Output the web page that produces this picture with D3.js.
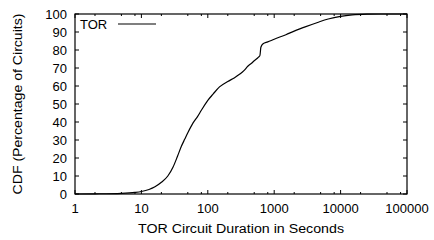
<!DOCTYPE html>
<html>
<head>
<meta charset="utf-8">
<script src="https://cdn.jsdelivr.net/npm/d3@7"></script>
<style>
	body { margin: 0; background: #fff; }
	text { font-family: "Liberation Sans", Arial, sans-serif; fill: #000; }
</style>
</head>
<body>
<svg id="chart" width="434" height="240"></svg>
<script>
// Data:
var durations = [1, 2, 5, 8, 10, 13, 16, 20, 25, 30, 35, 40, 45, 50, 60, 70, 80, 100, 120, 150, 200, 250, 300, 350, 400, 450, 500, 580, 610, 630, 680, 800, 1000, 1500, 2000, 3000, 4500, 6500, 10000, 15000, 25000, 40000, 100000];
var cdfValues = [0, 0.1, 0.4, 0.9, 1.4, 2.5, 4, 6.5, 10, 15, 21, 26.5, 30.5, 34, 39.5, 43, 46.5, 52, 55.5, 59.5, 62.5, 64.5, 66.5, 68.5, 71, 72.5, 74, 76, 77, 81.5, 83.5, 84.5, 86, 88.5, 90.5, 93, 95.3, 97.2, 98.7, 99.5, 99.9, 100, 100];
var xTickValues = [1, 10, 100, 1000, 10000, 100000];
var xMinorMult = [2, 5, 8];
var yTickValues = [0, 10, 20, 30, 40, 50, 60, 70, 80, 90, 100];
var seriesName = "TOR";

function drawChart() {
	"use strict";
	var svg = d3.select("#chart");
	var pLeft = 75, pRight = 407, pTop = 14, pBottom = 194;

	var x = d3.scaleLog().domain([1, 100000]).range([pLeft, pRight]);
	var y = d3.scaleLinear().domain([0, 100]).range([pBottom, pTop]);

	// ticks (inside, mirrored like gnuplot)
	var minorTicks = [];
	xTickValues.slice(0, -1).forEach(function(d) {
		xMinorMult.forEach(function(m) { minorTicks.push(d * m); });
	});

	var g = svg.append("g").attr("stroke", "#000").attr("stroke-width", 1);
	xTickValues.forEach(function(d) {
		g.append("line").attr("x1", x(d)).attr("x2", x(d)).attr("y1", pBottom).attr("y2", pBottom - 4);
		g.append("line").attr("x1", x(d)).attr("x2", x(d)).attr("y1", pTop).attr("y2", pTop + 4);
	});
	minorTicks.forEach(function(d) {
		g.append("line").attr("x1", x(d)).attr("x2", x(d)).attr("y1", pBottom).attr("y2", pBottom - 2);
		g.append("line").attr("x1", x(d)).attr("x2", x(d)).attr("y1", pTop).attr("y2", pTop + 2);
	});
	yTickValues.forEach(function(d) {
		g.append("line").attr("x1", pLeft).attr("x2", pLeft + 4).attr("y1", y(d)).attr("y2", y(d));
		g.append("line").attr("x1", pRight).attr("x2", pRight - 4).attr("y1", y(d)).attr("y2", y(d));
	});

	// tick labels
	svg.selectAll("text.xlab")
		.data(xTickValues)
		.enter().append("text")
		.attr("class", "xlab")
		.attr("x", function(d) { return x(d); })
		.attr("y", 213)
		.attr("text-anchor", "middle")
		.attr("font-size", 13)
		.text(function(d) { return d; });

	svg.selectAll("text.ylab")
		.data(yTickValues)
		.enter().append("text")
		.attr("class", "ylab")
		.attr("x", 67)
		.attr("y", function(d) { return y(d); })
		.attr("dy", "0.35em")
		.attr("text-anchor", "end")
		.attr("font-size", 13)
		.text(function(d) { return d; });

	// axis titles
	svg.append("text")
		.attr("x", (pLeft + pRight) / 2)
		.attr("y", 233)
		.attr("text-anchor", "middle")
		.attr("font-size", 12.5)
		.attr("textLength", 206)
		.attr("lengthAdjust", "spacingAndGlyphs")
		.text("TOR Circuit Duration in Seconds");

	svg.append("text")
		.attr("transform", "translate(22," + ((pTop + pBottom) / 2) + ") rotate(-90)")
		.attr("text-anchor", "middle")
		.attr("font-size", 12.5)
		.attr("textLength", 181)
		.attr("lengthAdjust", "spacingAndGlyphs")
		.text("CDF (Percentage of Circuits)");

	// curve
	var line = d3.line()
		.x(function(d, i) { return x(durations[i]); })
		.y(function(d) { return y(d); })
		.curve(d3.curveMonotoneX);

	svg.append("path")
		.datum(cdfValues)
		.attr("d", line)
		.attr("fill", "none")
		.attr("stroke", "#000")
		.attr("stroke-width", 1.2);

	// border
	svg.append("rect")
		.attr("x", pLeft).attr("y", pTop)
		.attr("width", pRight - pLeft).attr("height", pBottom - pTop)
		.attr("fill", "none")
		.attr("stroke", "#000")
		.attr("stroke-width", 1.2);

	// legend
	svg.append("text")
		.attr("x", 80)
		.attr("y", 28.5)
		.attr("font-size", 13)
		.text(seriesName);
	svg.append("line")
		.attr("x1", 118).attr("x2", 156)
		.attr("y1", 24).attr("y2", 24)
		.attr("stroke", "#000")
		.attr("stroke-width", 1.2);
}
drawChart();
</script>
</body>
</html>
